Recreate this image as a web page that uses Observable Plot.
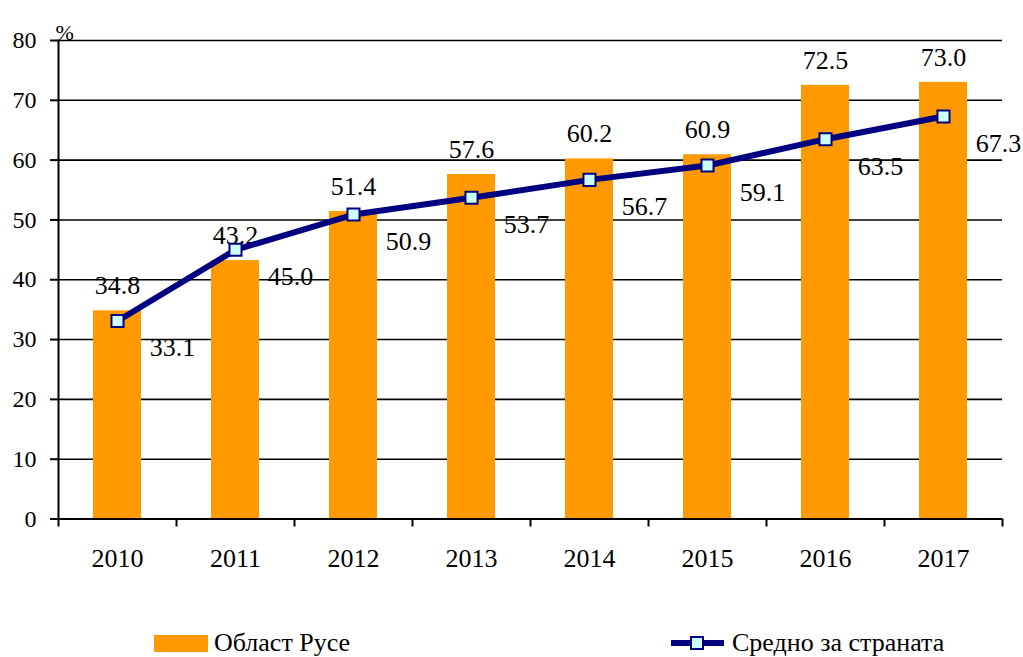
<!DOCTYPE html>
<html>
<head>
<meta charset="utf-8">
<script src="https://cdn.jsdelivr.net/npm/d3@7"></script>
<script src="https://cdn.jsdelivr.net/npm/@observablehq/plot@0.6"></script>
<style>
  html, body { margin: 0; padding: 0; background: #fff; }
  #wrap { position: relative; width: 1023px; height: 657px; font-family: "Liberation Serif", "Times New Roman", serif; }
  #wrap svg text { font-family: "Liberation Serif", "Times New Roman", serif; }
  .leg { position: absolute; font-size: 26px; color: #000; white-space: nowrap; line-height: 1; }
</style>
</head>
<body>
<div id="wrap"></div>
<script>
const years = ["2010", "2011", "2012", "2013", "2014", "2015", "2016", "2017"];
const ruse = [34.8, 43.2, 51.4, 57.6, 60.2, 60.9, 72.5, 73.0];
const average = [33.1, 45.0, 50.9, 53.7, 56.7, 59.1, 63.5, 67.3];
const yTicks = [0, 10, 20, 30, 40, 50, 60, 70, 80];
const seriesNames = ["Област Русе", "Средно за страната"];
const unitLabel = "%";

const W = 1023, H = 600, ML = 58, MR = 21, MT = 40, MB = 81.5;
const step = (W - ML - MR) / years.length;
const font = "Liberation Serif, Times New Roman, serif";
const orange = "#FF9900", navy = "#000080", cyan = "#CCFFFF";

const rows = years.map((y, i) => ({year: y, ruse: ruse[i], avg: average[i]}));

const chart = Plot.plot({
  width: W, height: H,
  marginLeft: ML, marginRight: MR, marginTop: MT, marginBottom: MB,
  style: {fontFamily: font, fontSize: "24px", color: "#000", background: "#fff"},
  x: {domain: years, paddingInner: 0.593, paddingOuter: 0.2965, label: null},
  y: {domain: [0, 80], label: null},
  marks: [
    Plot.gridY(yTicks, {stroke: "#000", strokeOpacity: 1, strokeWidth: 1.6}),
    Plot.barY(rows, {x: "year", y: "ruse", fill: orange}),
    Plot.ruleY([0], {stroke: "#000", strokeWidth: 2}),
    Plot.frame({anchor: "left", stroke: "#000", strokeWidth: 2}),
    Plot.ruleX(years, {x: d => d, y1: 0, y2: 0, insetBottom: -8, dx: -step / 2, stroke: "#000", strokeWidth: 2}),
    Plot.ruleX(years.slice(-1), {x: d => d, y1: 0, y2: 0, insetBottom: -8, dx: step / 2, stroke: "#000", strokeWidth: 2}),
    Plot.axisY({ticks: yTicks, tickSize: 8, tickPadding: 14, fontSize: 24, fontFamily: font, stroke: "#000", strokeWidth: 2, label: null}),
    Plot.axisX({tickSize: 0, tickPadding: 30, fontSize: 26, fontFamily: font, label: null}),
    Plot.text(rows, {x: "year", y: "ruse", text: d => d.ruse.toFixed(1), dy: -25, fontSize: 26, fontFamily: font, fill: "#000", ariaLabel: "boxed-labels"}),
    Plot.lineY(rows, {x: "year", y: "avg", stroke: navy, strokeWidth: 6}),
    Plot.dot(rows, {x: "year", y: "avg", symbol: "square", r: 6.8, fill: cyan, stroke: navy, strokeWidth: 2}),
    Plot.text(rows, {x: "year", y: "avg", text: d => d.avg.toFixed(1), dx: 55, dy: 27, fontSize: 26, fontFamily: font, fill: "#000", ariaLabel: "boxed-labels"}),
    Plot.text([unitLabel], {frameAnchor: "top-left", text: d => d, dx: -3, dy: -16, textAnchor: "start", fontSize: 22, fontFamily: font, fill: "#000"})
  ]
});

const wrap = document.getElementById("wrap");
wrap.appendChild(chart);

// white boxes behind data labels (like the spreadsheet's label background)
chart.querySelectorAll('g[aria-label="boxed-labels"] text').forEach(t => {
  const b = t.getBBox();
  const r = document.createElementNS("http://www.w3.org/2000/svg", "rect");
  r.setAttribute("x", b.x - 1);
  r.setAttribute("y", b.y + 2);
  r.setAttribute("width", b.width + 2);
  r.setAttribute("height", b.height - 4);
  r.setAttribute("fill", "#fff");
  const tr = t.getAttribute("transform");
  if (tr) r.setAttribute("transform", tr);
  t.parentNode.insertBefore(r, t);
});

// legend
const l1sw = document.createElement("div");
l1sw.style.cssText = `position:absolute;left:154px;top:635px;width:54px;height:17px;background:${orange};`;
wrap.appendChild(l1sw);
const l1 = document.createElement("div");
l1.className = "leg";
l1.style.cssText = "left:214px;top:630px;";
l1.textContent = seriesNames[0];
wrap.appendChild(l1);

const ns = "http://www.w3.org/2000/svg";
const sw = document.createElementNS(ns, "svg");
sw.setAttribute("width", "60"); sw.setAttribute("height", "24");
sw.style.cssText = "position:absolute;left:668px;top:631px;";
const ln = document.createElementNS(ns, "line");
ln.setAttribute("x1", "3"); ln.setAttribute("x2", "56"); ln.setAttribute("y1", "12"); ln.setAttribute("y2", "12");
ln.setAttribute("stroke", navy); ln.setAttribute("stroke-width", "6");
sw.appendChild(ln);
const rc = document.createElementNS(ns, "rect");
rc.setAttribute("x", "23"); rc.setAttribute("y", "6"); rc.setAttribute("width", "12"); rc.setAttribute("height", "12");
rc.setAttribute("fill", cyan); rc.setAttribute("stroke", navy); rc.setAttribute("stroke-width", "2");
sw.appendChild(rc);
wrap.appendChild(sw);
const l2 = document.createElement("div");
l2.className = "leg";
l2.style.cssText = "left:732px;top:630px;";
l2.textContent = seriesNames[1];
wrap.appendChild(l2);
</script>
</body>
</html>
